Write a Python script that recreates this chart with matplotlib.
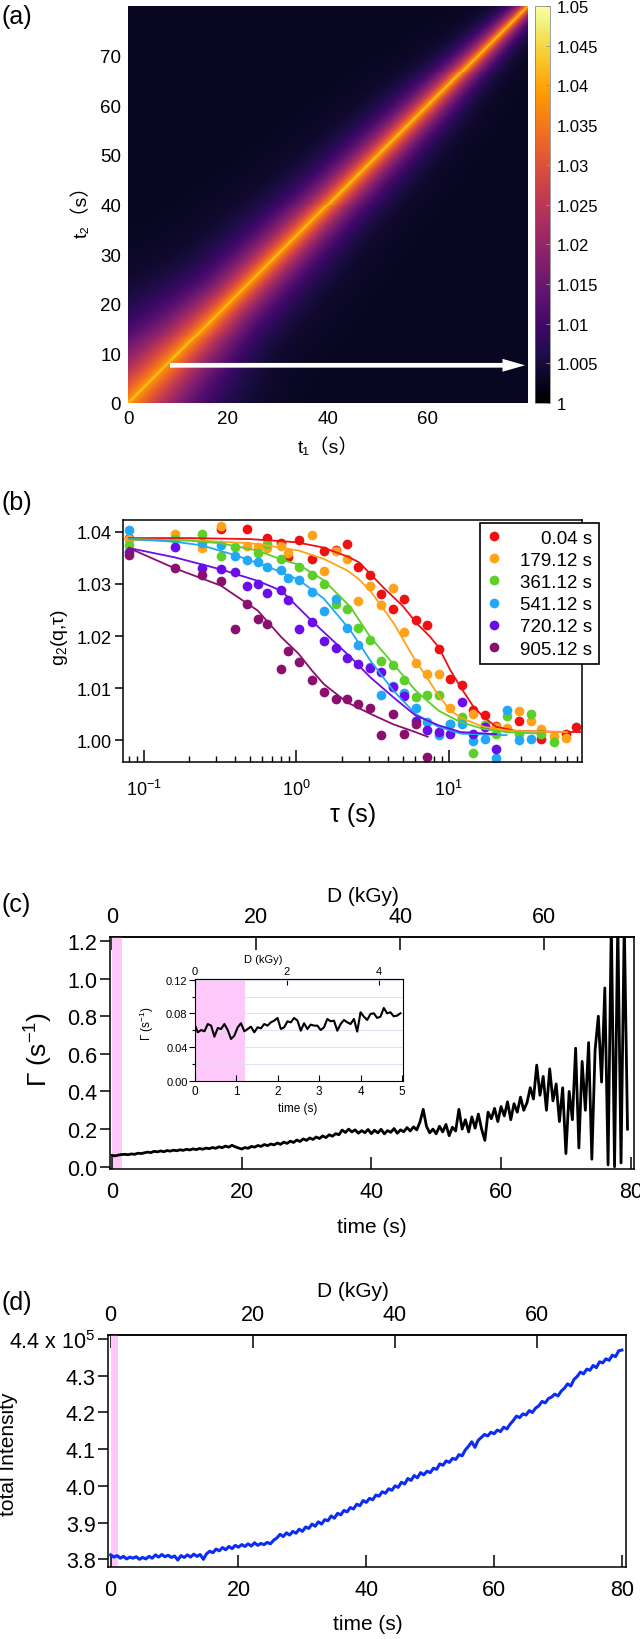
import numpy as np
import matplotlib
matplotlib.use("Agg")
import matplotlib.pyplot as plt
from matplotlib.ticker import FixedLocator, FuncFormatter, FormatStrFormatter, MultipleLocator

plt.rcParams["font.family"] = ["Liberation Sans", "DejaVu Sans"]
plt.rcParams["mathtext.fontset"] = "custom"
plt.rcParams["mathtext.rm"] = "Liberation Sans"
plt.rcParams["mathtext.it"] = "Liberation Sans:italic"
plt.rcParams["mathtext.bf"] = "Liberation Sans:bold"
plt.rcParams["axes.linewidth"] = 1.1

DOSE_RATE = 0.9  # kGy per second (top axes)
PINK = "#ffc8fb"
CJK = ["Liberation Sans", "Noto Sans CJK JP", "DejaVu Sans"]

# ---- (a) two-time correlation map
map_age = [0, 10, 20, 30, 40, 50, 60, 70, 80]
map_width = [13.0, 10.0, 7.5, 6.8, 6.0, 5.4, 4.6, 3.5, 2.5]  # half width of the glow (s)
map_shape = 1.2
map_beta = 0.035
map_spike = 0.005        # thin bright line on the diagonal
map_spike_width = 0.4
map_base = 1.003
cbar_ticks = [1.0, 1.005, 1.01, 1.015, 1.02, 1.025, 1.03, 1.035, 1.04, 1.045, 1.05]
arrow_start = (8.4, 7.6)
arrow_end = (79.4, 7.6)

# ---- (b) g2 curves
ages = ["0.04 s", "179.12 s", "361.12 s", "541.12 s", "720.12 s", "905.12 s"]
colors = ["#ee1111", "#ffa31a", "#5ccf29", "#21a8f7", "#6b0de8", "#8a0f6e"]
nan = np.nan
b_tau = [0.08, 0.16, 0.24, 0.32, 0.40, 0.48, 0.56, 0.64, 0.80, 0.88, 1.04, 1.28,
         1.52, 1.84, 2.16, 2.56, 3.04, 3.60, 4.32, 5.12, 6.08, 7.20, 8.64, 10.24,
         12.16, 14.4, 17.3, 20.5, 24.3, 28.8, 34.6, 40.6, 49.0, 58.5, 69.0]
g2_000 = [1.0388, 1.0388, nan, 1.0406, nan, 1.0406, nan, 1.0388, 1.0378, 1.0351, 1.0385, 1.0347,
          1.0363, 1.0366, 1.0377, 1.0332, 1.0318, 1.0280, 1.0252, 1.0272, 1.0230, 1.0222, 1.0176, 1.0118,
          1.0107, 1.0059, 1.0048, 1.0028, nan, 1.0038, nan, 1.0003, nan, 1.0013, 1.0026]
g2_179 = [1.0386, 1.0395, 1.0369, 1.0412, nan, 1.0372, 1.0371, 1.0369, 1.0372, 1.0359, nan, 1.0394,
          1.0325, 1.0363, 1.0348, 1.0267, 1.0297, 1.0259, 1.0293, 1.0208, 1.0149, 1.0128, 1.0128, 1.0063,
          1.0040, 1.0050, 1.0030, 1.0026, 1.0024, 1.0056, 1.0037, 1.0021, 1.0008, 1.0005, nan]
g2_361 = [1.0374, 1.0386, 1.0395, 1.0353, 1.0370, nan, 1.0359, 1.0377, 1.0347, nan, 1.0333, 1.0318,
          1.0299, 1.0262, 1.0252, 1.0216, 1.0193, 1.0153, 1.0144, 1.0115, 1.0083, 1.0088, 1.0088, 1.0032,
          1.0044, 0.9976, 1.0029, 1.0012, 1.0046, 1.0013, 1.0051, 1.0012, 0.9997, nan, nan]
g2_541 = [1.0404, nan, 1.0378, 1.0374, 1.0354, 1.0345, 1.0342, 1.0333, 1.0326, 1.0312, 1.0308, 1.0285,
          1.0249, 1.0272, 1.0215, 1.0182, 1.0141, 1.0088, 1.0105, 1.0091, 1.0063, 1.0035, 1.0010, 1.0031,
          1.0032, 0.9998, 1.0002, 0.9967, 1.0058, 1.0000, 1.0002, nan, nan, nan, nan]
g2_720 = [1.0361, 1.0371, 1.0331, 1.0328, 1.0323, 1.0297, 1.0299, 1.0283, 1.0289, 1.0270, 1.0214, 1.0227,
          1.0190, 1.0177, 1.0158, 1.0146, 1.0139, 1.0131, 1.0102, 1.0086, 1.0037, 1.0019, 1.0016, 1.0013,
          1.0074, 1.0013, 1.0026, 0.9984, nan, nan, nan, nan, nan, nan, nan]
g2_905 = [1.0356, 1.0331, 1.0317, 1.0305, 1.0213, 1.0261, 1.0233, 1.0224, 1.0137, 1.0171, 1.0151, 1.0116,
          1.0093, 1.0079, 1.0079, 1.0069, 1.0063, 1.0010, 1.0051, 1.0012, 1.0031, 0.9969, nan, nan,
          nan, nan, nan, nan, nan, nan, nan, nan, nan, nan, nan]
g2_points = [g2_000, g2_179, g2_361, g2_541, g2_720, g2_905]

# fitted curves, points
fit_tau = [
    [0.08, 0.2, 0.5, 1.0, 1.5, 2.2, 2.6, 3.8, 5.0, 6.2, 7.5, 8.6, 10.3, 12, 14.6, 17, 20.5, 28, 40, 73],
    [0.08, 0.2, 0.5, 0.64, 1.04, 1.52, 2.16, 2.56, 3.07, 4.38, 6.06, 7.2, 8.6, 10.3, 12.3, 17, 24, 35, 60],
    [0.08, 0.2, 0.32, 0.56, 0.8, 1.04, 1.52, 2.27, 3.07, 4.33, 6.06, 8.6, 12, 17, 24, 40],
    [0.08, 0.16, 0.24, 0.4, 0.64, 1.04, 1.52, 2.27, 3.07, 4.33, 6.06, 8.6, 12, 24],
    [0.08, 0.16, 0.32, 0.56, 0.8, 1.27, 1.84, 2.27, 3.07, 4.33, 6.06, 8.6, 12, 20.5],
    [0.08, 0.16, 0.32, 0.56, 0.8, 1.04, 1.27, 1.52, 2.16, 3.07, 4.33, 6.06, 7.3],
]
fit_g2 = [
    [1.0388, 1.0388, 1.0386, 1.0380, 1.0370, 1.0352, 1.0341, 1.0291, 1.0258, 1.0224, 1.0200, 1.0179,
     1.0134, 1.0102, 1.0064, 1.0045, 1.0026, 1.0018, 1.0017, 1.0016],
    [1.0384, 1.0384, 1.0378, 1.0374, 1.0364, 1.0348, 1.0326, 1.0310, 1.0287, 1.0224, 1.0153, 1.0121,
     1.0086, 1.0057, 1.0042, 1.0026, 1.0019, 1.0017, 1.0016],
    [1.0386, 1.0383, 1.0378, 1.0364, 1.0347, 1.0337, 1.0307, 1.0256, 1.0198, 1.0147, 1.0096, 1.0057,
     1.0035, 1.0022, 1.0016, 1.0013],
    [1.0386, 1.0381, 1.0374, 1.0355, 1.0334, 1.0308, 1.0272, 1.0211, 1.0153, 1.0096, 1.0051, 1.0026,
     1.0013, 1.0010],
    [1.0369, 1.0351, 1.0328, 1.0306, 1.0287, 1.0229, 1.0185, 1.0160, 1.0121, 1.0083, 1.0048, 1.0029,
     1.0016, 1.0012],
    [1.0369, 1.0330, 1.0297, 1.0249, 1.0198, 1.0166, 1.0134, 1.0108, 1.0073, 1.0051, 1.0031, 1.0016,
     1.0007],
]

# ---- (c) relaxation rate vs time, one value every 0.5 s
c_step = 0.5
gamma_main = [
    0.060, 0.058, 0.062, 0.065, 0.066, 0.064, 0.068, 0.066, 0.072, 0.070,
    0.074, 0.078, 0.075, 0.082, 0.079, 0.084, 0.080, 0.086, 0.083, 0.088,
    0.085, 0.090, 0.087, 0.093, 0.089, 0.095, 0.091, 0.097, 0.093, 0.099,
    0.096, 0.102, 0.098, 0.106, 0.101, 0.110, 0.104, 0.114, 0.106, 0.100,
    0.094, 0.102, 0.098, 0.108, 0.104, 0.113, 0.108, 0.118, 0.112, 0.121,
    0.116, 0.126, 0.119, 0.131, 0.124, 0.136, 0.129, 0.142, 0.134, 0.148,
    0.140, 0.153, 0.145, 0.158, 0.150, 0.164, 0.155, 0.170, 0.162, 0.176,
    0.170, 0.195, 0.182, 0.200, 0.185, 0.196, 0.178, 0.192, 0.181, 0.198,
    0.176, 0.194, 0.180, 0.199, 0.175, 0.192, 0.183, 0.203, 0.178, 0.196,
    0.186, 0.208, 0.190, 0.212, 0.196, 0.238, 0.305, 0.215, 0.180, 0.200,
    0.175, 0.215, 0.185, 0.225, 0.165, 0.210, 0.190, 0.305, 0.200, 0.250,
    0.185, 0.265, 0.205, 0.280, 0.200, 0.140, 0.290, 0.255, 0.310, 0.240,
    0.320, 0.270, 0.345, 0.250, 0.335, 0.290, 0.370, 0.300, 0.340, 0.420,
    0.360, 0.540, 0.380, 0.480, 0.300, 0.520, 0.350, 0.440, 0.240, 0.420,
    0.070, 0.400, 0.250, 0.630, 0.100, 0.560, 0.300, 0.660, 0.040, 0.620,
    0.800, 0.450, 0.950, 0.010, 1.300, 0.000, 1.300, 0.020, 1.300, 0.200,
]
# inset: first 5 s, one value every 0.08 s
inset_step = 0.08
gamma_inset = [
    0.0675, 0.0577, 0.0604, 0.0589, 0.0675, 0.0656, 0.0525, 0.0628, 0.0616, 0.0675,
    0.0604, 0.0498, 0.0537, 0.0636, 0.0684, 0.0589, 0.0616, 0.0644, 0.0577, 0.0636,
    0.0624, 0.0675, 0.0656, 0.0695, 0.0715, 0.0747, 0.0616, 0.0636, 0.0707, 0.0695,
    0.0747, 0.0715, 0.0596, 0.0684, 0.0616, 0.0668, 0.0656, 0.0656, 0.0604, 0.0636,
    0.0735, 0.0707, 0.0715, 0.0596, 0.0675, 0.0723, 0.0695, 0.0675, 0.0735, 0.0585,
    0.0814, 0.0762, 0.0723, 0.0794, 0.0802, 0.0747, 0.0762, 0.0865, 0.0802, 0.0814,
    0.0766, 0.0774, 0.0802,
]
pink_main_c = (0.0, 1.5)
pink_inset = (0.0, 1.22)

# ---- (d) total intensity (x 1e5) every 0.5 s
d_step = 0.5
intensity = [
    3.812, 3.806, 3.810, 3.803, 3.808, 3.801, 3.806, 3.803, 3.807, 3.800,
    3.805, 3.801, 3.808, 3.803, 3.812, 3.806, 3.813, 3.807, 3.811, 3.805,
    3.809, 3.798, 3.810, 3.805, 3.812, 3.806, 3.814, 3.808, 3.813, 3.800,
    3.815, 3.822, 3.818, 3.828, 3.823, 3.832, 3.826, 3.835, 3.829, 3.838,
    3.833, 3.840, 3.835, 3.842, 3.836, 3.845, 3.838, 3.843, 3.840, 3.846,
    3.842, 3.852, 3.858, 3.868, 3.862, 3.872, 3.866, 3.876, 3.871, 3.882,
    3.876, 3.888, 3.884, 3.896, 3.890, 3.902, 3.896, 3.908, 3.905, 3.918,
    3.912, 3.925, 3.921, 3.933, 3.929, 3.941, 3.937, 3.950, 3.946, 3.960,
    3.955, 3.966, 3.962, 3.975, 3.972, 3.984, 3.980, 3.992, 3.988, 4.000,
    3.996, 4.010, 4.005, 4.020, 4.015, 4.028, 4.022, 4.036, 4.030, 4.040,
    4.036, 4.048, 4.045, 4.060, 4.056, 4.068, 4.064, 4.075, 4.072, 4.085,
    4.082, 4.098, 4.108, 4.120, 4.105, 4.124, 4.132, 4.140, 4.136, 4.146,
    4.142, 4.152, 4.148, 4.160, 4.155, 4.168, 4.178, 4.190, 4.186, 4.196,
    4.193, 4.205, 4.200, 4.212, 4.218, 4.230, 4.226, 4.238, 4.242, 4.250,
    4.245, 4.258, 4.266, 4.278, 4.272, 4.290, 4.298, 4.310, 4.305, 4.318,
    4.315, 4.328, 4.322, 4.338, 4.335, 4.346, 4.342, 4.356, 4.352, 4.368,
    4.370,
]
pink_d = (0.0, 1.1)
d_ticks = [3.8, 3.9, 4.0, 4.1, 4.2, 4.3, 4.4]
d_ticklabels = ["3.8", "3.9", "4.0", "4.1", "4.2", "4.3", r"4.4 x $10^{5}$"]

GAMMA = "\u0393"
TAU = "\u03c4"


def dose(t):
    return t * DOSE_RATE


def time_from_dose(d):
    return d / DOSE_RATE


def box(x0, y0, x1, y1):
    # pixel box, origin top-left, -> figure fraction
    return [x0 / 640, 1 - y1 / 1640, (x1 - x0) / 640, (y1 - y0) / 1640]


def dose_axis(ax, ticks, size, length, width, pad, label_xy, label_size):
    top = ax.secondary_xaxis("top", functions=(dose, time_from_dose))
    top.set_xticks(ticks)
    top.tick_params(direction="in", length=length, width=width, pad=pad, labelsize=size)
    top.set_xlabel("D (kGy)", fontsize=label_size)
    top.xaxis.set_label_coords(label_xy[0], label_xy[1], transform=ax.transAxes)
    return top


fig = plt.figure(figsize=(6.4, 16.4), dpi=100)

# ================= (a)
ax_a = fig.add_axes(box(128, 7, 528, 404))
n = 400
t_c = (np.arange(n) + 0.5) * 80 / n
T1, T2 = np.meshgrid(t_c, t_c)
lag = np.abs(T1 - T2)
w = np.interp((T1 + T2) / 2, map_age, map_width)
corr = (map_base + map_beta * np.exp(-(lag / w) ** map_shape)
        + map_spike * np.exp(-lag / map_spike_width))
im = ax_a.imshow(corr, origin="lower", extent=[0, 80, 0, 80], cmap="inferno",
                 vmin=1.0, vmax=1.05, aspect="auto", interpolation="nearest")
ax_a.arrow(arrow_start[0], arrow_start[1], arrow_end[0] - arrow_start[0], 0,
           width=0.95, head_width=2.6, head_length=4.5, length_includes_head=True,
           fc="white", ec="none")
ax_a.set_xticks([0, 20, 40, 60])
ax_a.set_yticks([0, 10, 20, 30, 40, 50, 60, 70])
ax_a.tick_params(length=0, pad=5, labelsize=13.5)
for s in ax_a.spines.values():
    s.set_visible(False)
ax_a.set_xlabel("t\u2081\uff08s\uff09", fontsize=14, family=CJK)
ax_a.xaxis.set_label_coords(0.5, -0.086)
ax_a.set_ylabel("t\u2082\uff08s\uff09", fontsize=14, family=CJK)
ax_a.yaxis.set_label_coords(-0.093, 0.496)

cax = fig.add_axes(box(535, 7, 550, 404))
cb = fig.colorbar(im, cax=cax)
cb.set_ticks(cbar_ticks)
cb.ax.yaxis.set_major_formatter(FuncFormatter(lambda v, p: f"{v:.3f}".rstrip("0").rstrip(".")))
cb.outline.set_linewidth(0.5)
cb.outline.set_edgecolor("#777777")
cax.tick_params(direction="in", length=3, width=0.6, color="#999999", labelsize=12, pad=5)

# ================= (b)
ax_b = fig.add_axes(box(123, 521, 582, 763))
ax_b.set_xscale("log")
for i in range(6):
    # leading spaces keep the legend text right-aligned
    lab = "    " + ages[i] if len(ages[i]) < 8 else ages[i]
    ax_b.plot(b_tau, g2_points[i], "o", ms=7, mec="none", color=colors[i], label=lab, zorder=2)
for i in range(6):
    ax_b.plot(fit_tau[i], fit_g2[i], color=colors[i], lw=1.3, zorder=3)
ax_b.set_xlim(0.0733, 75)
ax_b.set_ylim(0.99586, 1.04226)
ax_b.set_yticks([1.00, 1.01, 1.02, 1.03, 1.04])
ax_b.yaxis.set_major_formatter(FormatStrFormatter("%.2f"))
ax_b.tick_params(axis="y", direction="out", length=6, width=1.1, pad=2, labelsize=13)
ax_b.tick_params(axis="x", which="major", direction="in", length=9, width=1.1, pad=12, labelsize=13)
ax_b.tick_params(axis="x", which="minor", direction="in", length=4.5, width=1.0)
leg = ax_b.legend(loc="upper right", bbox_to_anchor=(1.037, 0.988),
                  fontsize=13.5, frameon=True, fancybox=False, edgecolor="black", framealpha=1,
                  borderpad=0.35, labelspacing=0.27, handlelength=0.8, handletextpad=1.0,
                  borderaxespad=0, numpoints=1)
leg.get_frame().set_linewidth(1.2)
leg.set_zorder(5)
ax_b.set_xlabel(TAU + " (s)", fontsize=18)
ax_b.xaxis.set_label_coords(0.501, -0.165)
ax_b.set_ylabel("g$_2$(q," + TAU + ")", fontsize=14)
ax_b.yaxis.set_label_coords(-0.115, 0.52)

# ================= (c)
ax_c = fig.add_axes(box(110, 938, 634, 1170))
tm = np.arange(len(gamma_main)) * c_step
ax_c.axvspan(*pink_main_c, color=PINK, lw=0)
ax_c.plot(tm, gamma_main, color="black", lw=2.0)
ax_c.set_xlim(-0.3, 80.5)
ax_c.set_ylim(-0.012, 1.221)
ax_c.set_xticks([0, 20, 40, 60, 80])
ax_c.set_yticks([0.0, 0.2, 0.4, 0.6, 0.8, 1.0, 1.2])
ax_c.yaxis.set_major_formatter(FormatStrFormatter("%.1f"))
ax_c.tick_params(axis="y", direction="out", length=7, width=1.1, pad=2, labelsize=15.5)
ax_c.tick_params(axis="x", direction="in", length=9, width=1.1, pad=9, labelsize=15.5)
ax_c.set_xlabel("time (s)", fontsize=15)
ax_c.xaxis.set_label_coords(0.5, -0.207)
ax_c.set_ylabel(GAMMA + " (s$^{-1}$)", fontsize=19)
ax_c.yaxis.set_label_coords(-0.105, 0.52)
dose_axis(ax_c, [0, 20, 40, 60], 15.5, 9, 1.1, 7, (0.483, 1.156), 15)

# inset
ax_in = fig.add_axes(box(194.5, 980, 403.3, 1082.3))
ti = np.arange(len(gamma_inset)) * inset_step
ax_in.axvspan(*pink_inset, color=PINK, lw=0, zorder=0)
ax_in.yaxis.set_minor_locator(MultipleLocator(0.02))
ax_in.grid(axis="y", which="both", color="#dcdcf0", lw=0.6, zorder=0.5)
ax_in.set_axisbelow(True)
ax_in.plot(ti, gamma_inset, color="black", lw=1.5, zorder=3)
ax_in.set_xlim(0, 5.03)
ax_in.set_ylim(-0.0003, 0.1208)
ax_in.set_xticks([0, 1, 2, 3, 4, 5])
ax_in.set_yticks([0.00, 0.04, 0.08, 0.12])
ax_in.yaxis.set_major_formatter(FormatStrFormatter("%.2f"))
ax_in.tick_params(axis="y", which="major", direction="out", length=4, width=0.8, pad=1, labelsize=8)
ax_in.tick_params(axis="y", which="minor", direction="out", length=2, width=0.8)
ax_in.tick_params(axis="x", direction="in", length=4, width=0.8, pad=3, labelsize=8.5)
for s in ax_in.spines.values():
    s.set_linewidth(0.8)
ax_in.set_xlabel("time (s)", fontsize=8.5)
ax_in.xaxis.set_label_coords(0.496, -0.2)
ax_in.set_ylabel(GAMMA + " (s$^{-1}$)", fontsize=8.5)
ax_in.yaxis.set_label_coords(-0.184, 0.57)
top_in = dose_axis(ax_in, [0, 2, 4], 8, 4, 0.8, 2, (0.331, 1.166), 8)
top_in.spines["top"].set_linewidth(0.8)

# ================= (d)
ax_d = fig.add_axes(box(108, 1336, 626, 1568))
td = np.arange(len(intensity)) * d_step
ax_d.axvspan(*pink_d, color=PINK, lw=0)
ax_d.plot(td, intensity, color="#0b2cf5", lw=2.2)
ax_d.set_xlim(-0.42, 80.64)
ax_d.set_ylim(3.779, 4.411)
ax_d.set_xticks([0, 20, 40, 60, 80])
ax_d.yaxis.set_major_locator(FixedLocator(d_ticks))
ax_d.set_yticklabels(d_ticklabels)
ax_d.tick_params(axis="y", direction="out", length=7, width=1.1, pad=2, labelsize=15.5)
ax_d.tick_params(axis="x", direction="in", length=9, width=1.1, pad=9, labelsize=15.5)
ax_d.set_xlabel("time (s)", fontsize=15)
ax_d.xaxis.set_label_coords(0.501, -0.203)
ax_d.set_ylabel("total Intensity", fontsize=15)
ax_d.yaxis.set_label_coords(-0.173, 0.49)
dose_axis(ax_d, [0, 20, 40, 60], 15.5, 9, 1.1, 7, (0.473, 1.169), 15)

# panel letters
for letter, ypix in [("(a)", 17), ("(b)", 503), ("(c)", 905), ("(d)", 1303)]:
    fig.text(0.002, 1 - ypix / 1640, letter, fontsize=18, ha="left", va="center")

fig.savefig("out.png", dpi=100)
